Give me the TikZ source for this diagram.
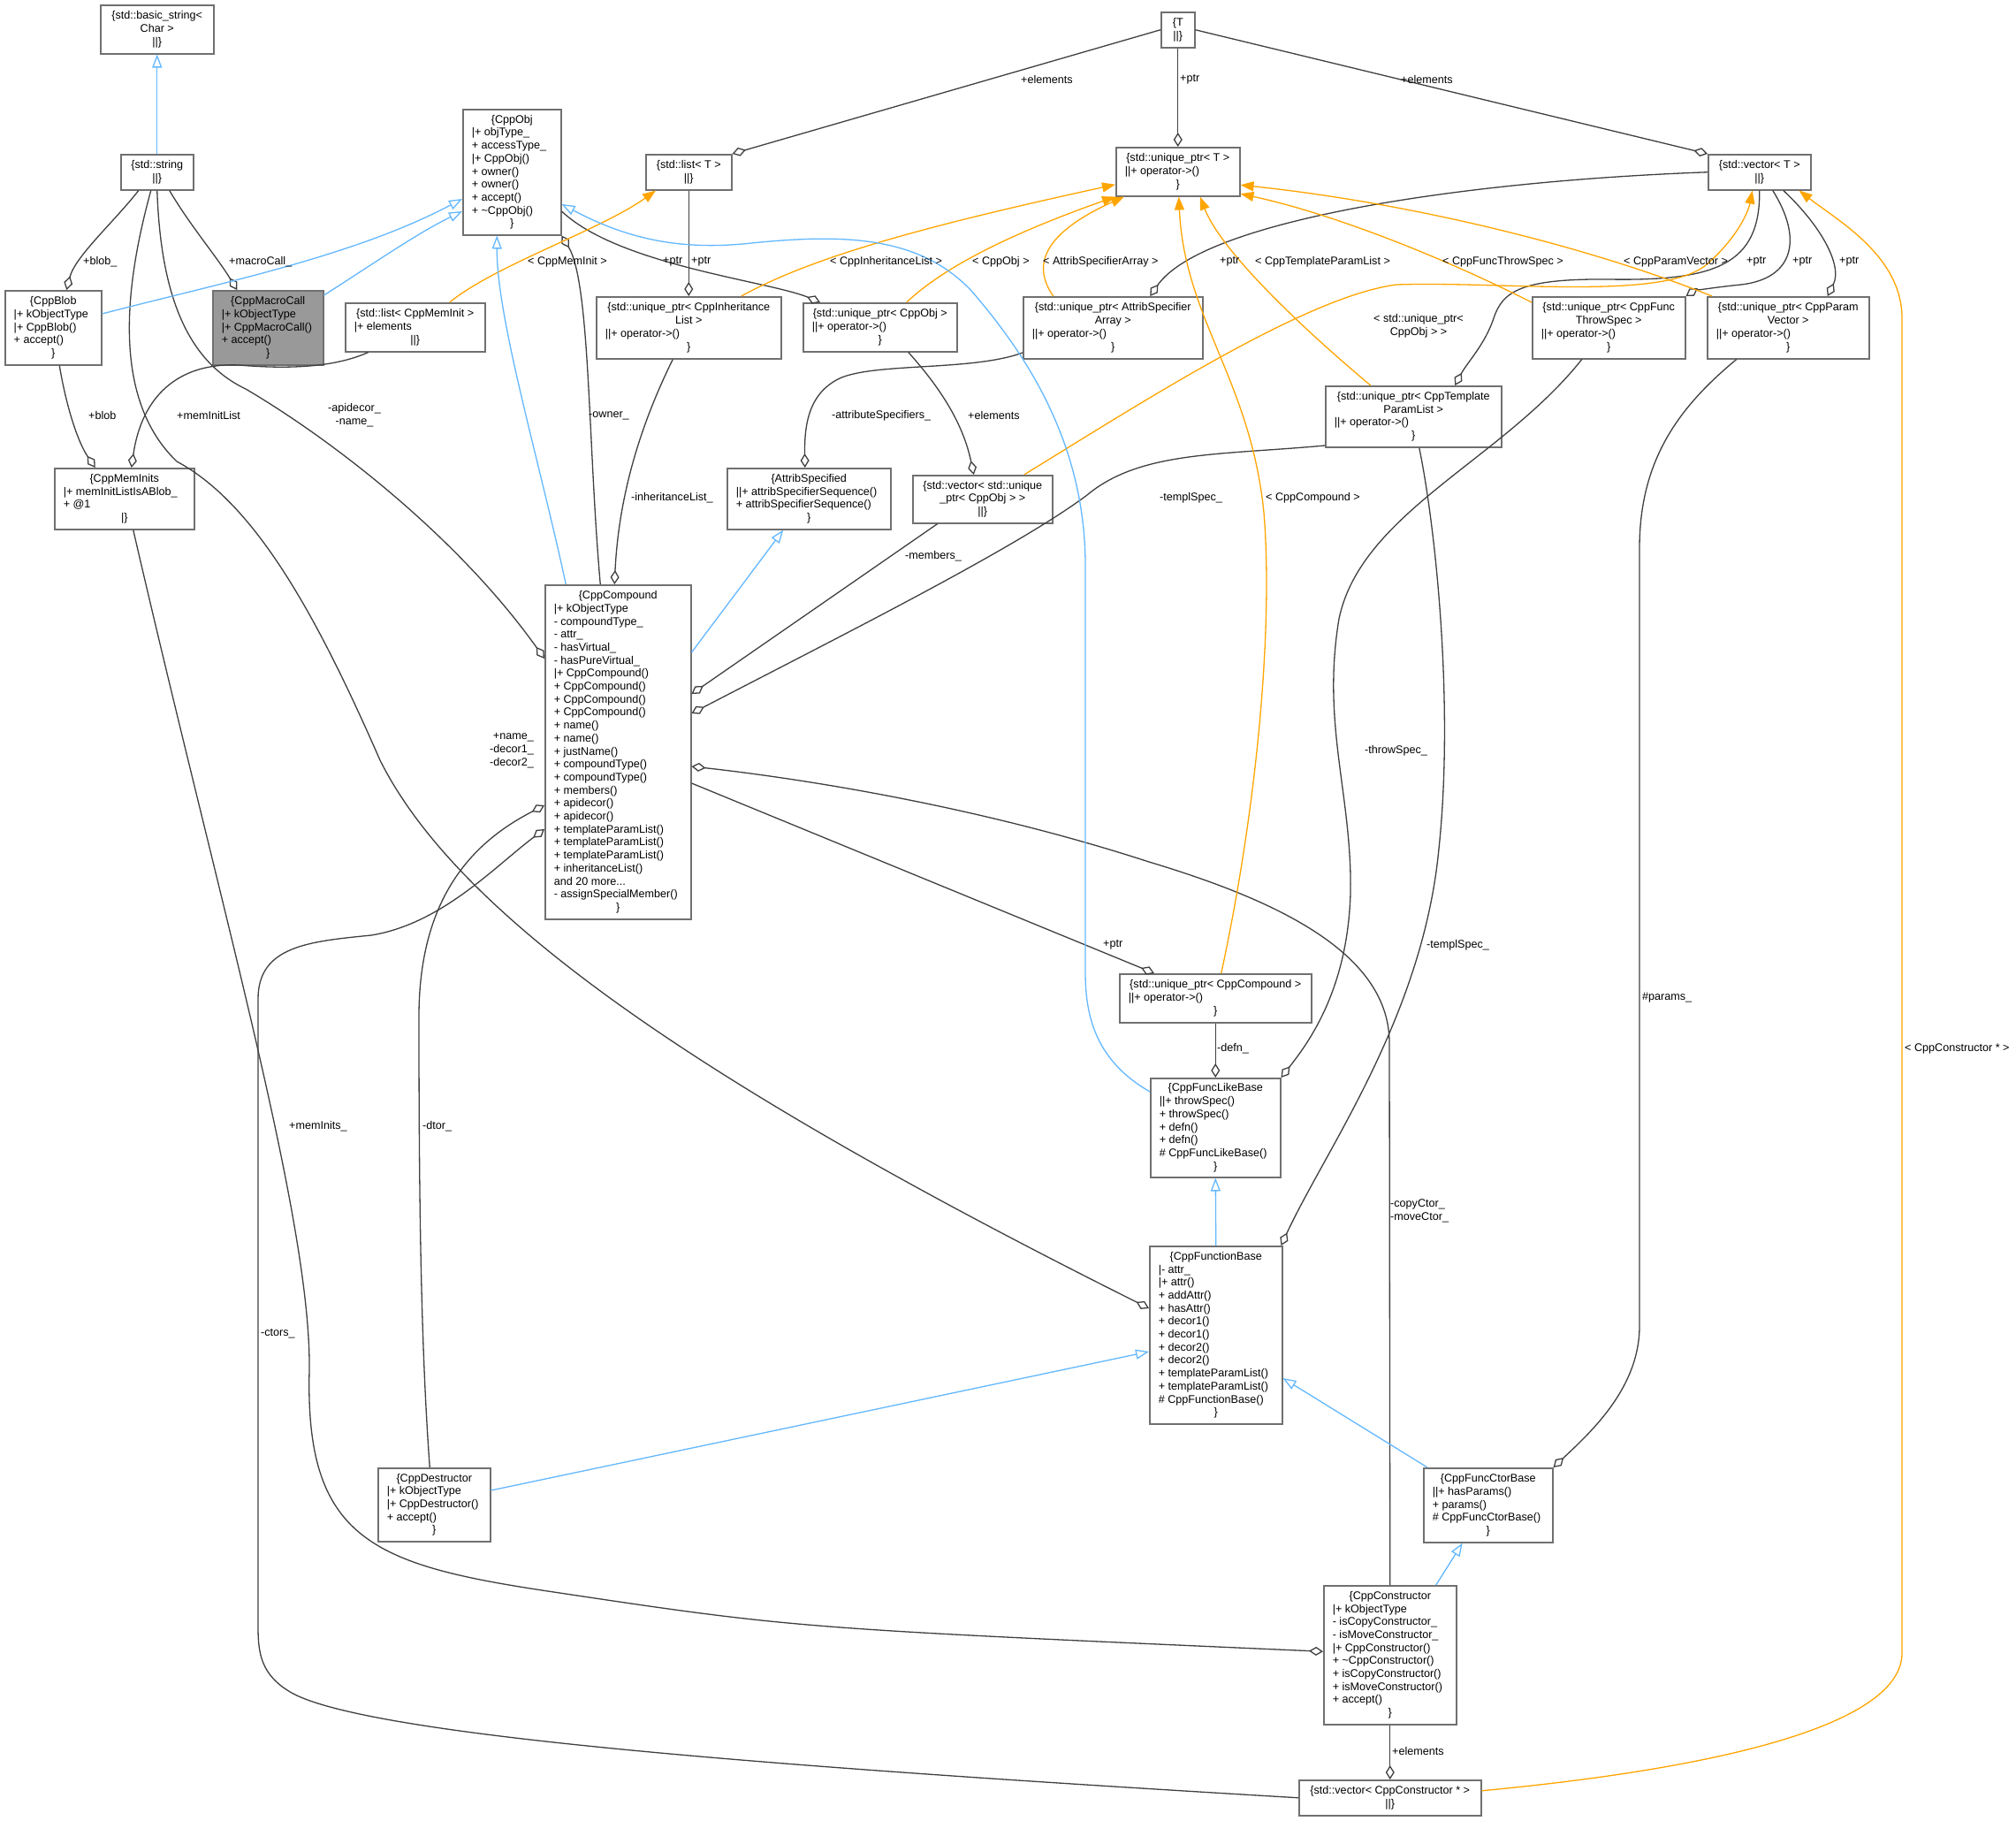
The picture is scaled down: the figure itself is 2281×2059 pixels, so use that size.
\documentclass[tikz,border=0pt]{standalone}
\usepackage{fontspec}
\setmainfont{Liberation Sans}
\usetikzlibrary{arrows.meta}
\definecolor{edgec}{HTML}{404040}
\definecolor{boxc}{HTML}{707070}
\definecolor{inhc}{HTML}{63B8FF}
\definecolor{tplc}{HTML}{FFA500}
\definecolor{hil}{HTML}{999999}
\newcommand\fsz{\fontsize{12.6}{14.7}\selectfont}
\newcommand\LC[1]{\hbox to\hsize{\hss#1\hss}}
\newcommand\LL[1]{\hbox to\hsize{#1\hss}}
\newcommand\BX[2]{\vbox{\hsize=#1\relax\fsz #2}}
\begin{document}
\begin{tikzpicture}[x=1pt,y=-1pt,
  cls/.style={draw=boxc, line width=1.5pt, fill=white, anchor=north west, inner sep=0pt},
  lbl/.style={font=\fsz, inner sep=0pt, text=black},
  agg/.style={draw=edgec, line width=1.3pt, -{Diamond[open,length=16pt,width=10pt]}},
  inh/.style={draw=inhc, line width=1.3pt, -{Triangle[open,length=15pt,width=11pt]}},
  tpl/.style={draw=tplc, line width=1.3pt, -{Triangle[length=15pt,width=11pt]}}]
\fill[white] (0,0) rectangle (2281,2059);
\useasboundingbox (0,0) rectangle (2281,2059);

% ---------------- nodes ----------------
\node[cls, minimum width=128pt, minimum height=55pt] (bstr) at (113,5)
  {\BX{108pt}{\LC{\{std::basic\_string<}\LC{Char >}\LC{||\}}}};
\node[cls, minimum width=82pt, minimum height=40pt] (str) at (136,174)
  {\BX{62pt}{\LC{\{std::string}\LC{||\}}}};
\node[cls, minimum width=111pt, minimum height=142pt] (cppobj) at (523,123)
  {\BX{91pt}{\LC{\{CppObj}\LL{|+ objType\_}\LL{+ accessType\_}\LL{|+ CppObj()}\LL{+ owner()}\LL{+ owner()}\LL{+ accept()}\LL{+ \textasciitilde CppObj()}\LC{\}}}};
\node[cls, minimum width=97pt, minimum height=40pt] (listT) at (730,174)
  {\BX{77pt}{\LC{\{std::list< T >}\LC{||\}}}};
\node[cls, minimum width=109pt, minimum height=84pt] (blob) at (5,328)
  {\BX{89pt}{\LC{\{CppBlob}\LL{|+ kObjectType}\LL{|+ CppBlob()}\LL{+ accept()}\LC{\}}}};
\node[cls, fill=hil, minimum width=125pt, minimum height=84pt] (macro) at (240,328)
  {\BX{105pt}{\LC{\{CppMacroCall}\LL{|+ kObjectType}\LL{|+ CppMacroCall()}\LL{+ accept()}\LC{\}}}};
\node[cls, minimum width=158pt, minimum height=55pt] (listmi) at (390,342)
  {\BX{138pt}{\LC{\{std::list< CppMemInit >}\LL{|+ elements}\LC{||\}}}};
\node[cls, minimum width=158pt, minimum height=69pt] (meminits) at (61,529)
  {\BX{138pt}{\LC{\{CppMemInits}\LL{|+ memInitListIsABlob\_}\LL{+ @1}\LC{|\}}}};
\node[cls, minimum width=38pt, minimum height=40pt] (T) at (1313,13)
  {\BX{18pt}{\LC{\{T}\LC{||\}}}};
\node[cls, minimum width=140pt, minimum height=55pt] (uptrT) at (1262,166)
  {\BX{120pt}{\LC{\{std::unique\_ptr< T >}\LL{||+ operator->()}\LC{\}}}};
\node[cls, minimum width=209pt, minimum height=70pt] (uinh) at (674,335)
  {\BX{189pt}{\LC{\{std::unique\_ptr< CppInheritance}\LC{List >}\LL{||+ operator->()}\LC{\}}}};
\node[cls, minimum width=174pt, minimum height=55pt] (uobj) at (908,342)
  {\BX{154pt}{\LC{\{std::unique\_ptr< CppObj >}\LL{||+ operator->()}\LC{\}}}};
\node[cls, minimum width=203pt, minimum height=70pt] (uattr) at (1157,335)
  {\BX{183pt}{\LC{\{std::unique\_ptr< AttribSpecifier}\LC{Array >}\LL{||+ operator->()}\LC{\}}}};
\node[cls, minimum width=185pt, minimum height=69pt] (attrsp) at (822,529)
  {\BX{165pt}{\LC{\{AttribSpecified}\LL{||+ attribSpecifierSequence()}\LL{+ attribSpecifierSequence()}\LC{\}}}};
\node[cls, minimum width=158pt, minimum height=54pt] (vuobj) at (1032,537)
  {\BX{138pt}{\LC{\{std::vector< std::unique}\LC{\_ptr< CppObj > >}\LC{||\}}}};
\node[cls, minimum width=116pt, minimum height=40pt] (vecT) at (1932,174)
  {\BX{96pt}{\LC{\{std::vector< T >}\LC{||\}}}};
\node[cls, minimum width=173pt, minimum height=70pt] (uthrow) at (1733,335)
  {\BX{153pt}{\LC{\{std::unique\_ptr< CppFunc}\LC{ThrowSpec >}\LL{||+ operator->()}\LC{\}}}};
\node[cls, minimum width=183pt, minimum height=70pt] (uparam) at (1931,335)
  {\BX{163pt}{\LC{\{std::unique\_ptr< CppParam}\LC{Vector >}\LL{||+ operator->()}\LC{\}}}};
\node[cls, minimum width=199pt, minimum height=69pt] (utpl) at (1499,436)
  {\BX{179pt}{\LC{\{std::unique\_ptr< CppTemplate}\LC{ParamList >}\LL{||+ operator->()}\LC{\}}}};
\node[cls, minimum width=165pt, minimum height=378pt] (compound) at (616,661)
  {\BX{145pt}{\LC{\{CppCompound}\LL{|+ kObjectType}\LL{- compoundType\_}\LL{- attr\_}\LL{- hasVirtual\_}\LL{- hasPureVirtual\_}\LL{|+ CppCompound()}\LL{+ CppCompound()}\LL{+ CppCompound()}\LL{+ CppCompound()}\LL{+ name()}\LL{+ name()}\LL{+ justName()}\LL{+ compoundType()}\LL{+ compoundType()}\LL{+ members()}\LL{+ apidecor()}\LL{+ apidecor()}\LL{+ templateParamList()}\LL{+ templateParamList()}\LL{+ templateParamList()}\LL{+ inheritanceList()}\LL{and 20 more...}\LL{- assignSpecialMember()}\LC{\}}}};
\node[cls, minimum width=217pt, minimum height=55pt] (ucomp) at (1266,1101)
  {\BX{197pt}{\LC{\{std::unique\_ptr< CppCompound >}\LL{||+ operator->()}\LC{\}}}};
\node[cls, minimum width=147pt, minimum height=112pt] (funclike) at (1301,1219)
  {\BX{127pt}{\LC{\{CppFuncLikeBase}\LL{||+ throwSpec()}\LL{+ throwSpec()}\LL{+ defn()}\LL{+ defn()}\LL{\# CppFuncLikeBase()}\LC{\}}}};
\node[cls, minimum width=150pt, minimum height=201pt] (funcbase) at (1300,1409)
  {\BX{130pt}{\LC{\{CppFunctionBase}\LL{|- attr\_}\LL{|+ attr()}\LL{+ addAttr()}\LL{+ hasAttr()}\LL{+ decor1()}\LL{+ decor1()}\LL{+ decor2()}\LL{+ decor2()}\LL{+ templateParamList()}\LL{+ templateParamList()}\LL{\# CppFunctionBase()}\LC{\}}}};
\node[cls, minimum width=146pt, minimum height=84pt] (ctorbase) at (1610,1660)
  {\BX{126pt}{\LC{\{CppFuncCtorBase}\LL{||+ hasParams()}\LL{+ params()}\LL{\# CppFuncCtorBase()}\LC{\}}}};
\node[cls, minimum width=150pt, minimum height=157pt] (ctor) at (1497,1793)
  {\BX{130pt}{\LC{\{CppConstructor}\LL{|+ kObjectType}\LL{- isCopyConstructor\_}\LL{- isMoveConstructor\_}\LL{|+ CppConstructor()}\LL{+ \textasciitilde CppConstructor()}\LL{+ isCopyConstructor()}\LL{+ isMoveConstructor()}\LL{+ accept()}\LC{\}}}};
\node[cls, minimum width=206pt, minimum height=40pt] (vctor) at (1469,2013)
  {\BX{186pt}{\LC{\{std::vector< CppConstructor * >}\LC{||\}}}};
\node[cls, minimum width=127pt, minimum height=83pt] (dtor) at (427,1660)
  {\BX{107pt}{\LC{\{CppDestructor}\LL{|+ kObjectType}\LL{|+ CppDestructor()}\LL{+ accept()}\LC{\}}}};

% ---------------- aggregation edges ----------------
\draw[agg] (T.west) -- (listT.north east);
\draw[agg] (T.south) -- (uptrT.north);
\draw[agg] (T.east) -- (vecT.north west);
\draw[agg] ([xshift=-21pt]str.south) .. controls (130,250) and (85,290) .. ([xshift=15pt]blob.north);
\draw[agg] ([xshift=14pt]str.south) .. controls (215,255) and (245,290) .. ([xshift=-35pt]macro.north);
\draw[agg] ([xshift=-53pt]listmi.south) .. controls (380,415) and (330,418) .. (270,413) .. controls (200,410) and (160,450) .. ([xshift=8pt]meminits.north);
\draw[agg] ([xshift=7pt]blob.south) .. controls (75,460) and (88,500) .. ([xshift=-33pt]meminits.north);
\draw[agg] (str.south) .. controls (182,340) and (215,410) .. (278,440) .. controls (380,500) and (520,610) .. ([yshift=-84pt]compound.north west);
\draw[agg] ([xshift=-7pt]str.south) .. controls (142,320) and (125,450) .. (200,522) .. controls (290,570) and (360,700) .. (430,860) .. controls (520,1040) and (800,1230) .. ([yshift=-71pt]funcbase.north west);
\draw[agg] ([xshift=10pt]meminits.south) .. controls (250,1030) and (352,1380) .. (350,1550) .. controls (345,1740) and (420,1770) .. (620,1800) .. controls (900,1842) .. ([yshift=4pt]ctor.west);
\draw[agg] ([xshift=-5pt]dtor.north) .. controls (476,1520) and (474,1350) .. (474,1150) .. controls (474,1010) and (540,950) .. ([yshift=-250pt]compound.north west);
\draw[agg] (vctor.west) .. controls (900,2000) and (420,1965) .. (330,1915) .. controls (295,1895) and (292,1870) .. (292,1840) -- (292,1130) .. controls (292,1070) and (350,1065) .. (420,1058) .. controls (500,1045) and (560,980) .. ([yshift=-277pt]compound.north west);
\draw[agg] ([xshift=-18pt]uinh.south) .. controls (725,480) and (700,560) .. ([xshift=-4pt]compound.north);
\draw[agg] ([xshift=-20pt]compound.north) .. controls (665,500) and (668,320) .. (cppobj.south east);
\draw[agg] ([yshift=-64pt]uattr.north west) .. controls (1100,420) and (990,410) .. (950,428) .. controls (915,445) and (910,480) .. ([xshift=-4.5pt]attrsp.north);
\draw[agg] ([xshift=32pt]uobj.south) .. controls (1065,440) and (1090,480) .. ([xshift=-10pt]vuobj.north);
\draw[agg] ([yshift=-116pt]cppobj.north east) .. controls (700,300) and (870,318) .. ([xshift=20pt]uobj.north west);
\draw[agg] (listT.south) -- (uinh.north);
\draw[agg] (vecT.west) .. controls (1650,205) and (1360,250) .. ([xshift=42pt]uattr.north);
\draw[agg] (vecT.south) .. controls (1992,300) and (1940,318) .. (1820,316) .. controls (1720,315) and (1700,330) .. (1690,360) .. controls (1680,390) and (1660,410) .. ([xshift=47pt]utpl.north);
\draw[agg] ([xshift=15pt]vecT.south) .. controls (2040,270) and (2030,315) .. (1970,322) .. controls (1930,326) and (1915,330) .. (uthrow.north east);
\draw[agg] ([xshift=27pt]vecT.south) .. controls (2060,255) and (2085,300) .. ([xshift=44.5pt]uparam.north);
\draw[agg] ([yshift=-225pt]compound.north east) -- ([xshift=40pt]ucomp.north west);
\draw[agg] (ucomp.south) -- (funclike.north);
\draw[agg] ([xshift=-30.5pt]uthrow.south) .. controls (1700,520) and (1540,580) .. (1515,700) .. controls (1495,820) and (1530,900) .. (1528,1010) .. controls (1525,1120) and (1480,1180) .. (funclike.north east);
\draw[agg] ([xshift=6.5pt]utpl.south) .. controls (1625,600) and (1645,800) .. (1628,960) .. controls (1610,1150) and (1500,1300) .. ([xshift=-2pt]funcbase.north east);
\draw[agg] ([xshift=-58.5pt]uparam.south) .. controls (1900,460) and (1855,520) .. (1855,620) -- (1855,1500) .. controls (1855,1570) and (1800,1620) .. (ctorbase.north east);
\draw[agg] (ctor.north) -- (1572,1180) .. controls (1572,1080) and (1450,1020) .. (1300,975) .. controls (1100,910) and (900,880) .. ([yshift=-206pt]compound.north east);
\draw[agg] ([yshift=-68pt]utpl.north west) .. controls (1380,515) and (1290,510) .. (1230,560) .. controls (1150,620) and (950,720) .. ([yshift=-146pt]compound.north east);
\draw[agg] ([xshift=-51pt]vuobj.south) -- ([yshift=-124pt]compound.north east);
\draw[agg] (ctor.south) -- (vctor.north);

% ---------------- template edges ----------------
\draw[tpl] ([xshift=39pt]listmi.north) .. controls (560,300) and (680,260) .. ([xshift=12pt]listT.south west);
\draw[tpl] ([xshift=59.5pt]uinh.north) .. controls (920,290) and (1050,255) .. ([yshift=-14.5pt]uptrT.west);
\draw[tpl] ([xshift=30pt]uobj.north) .. controls (1070,300) and (1150,262) .. (uptrT.south west);
\draw[tpl] ([xshift=-67.5pt]uattr.north) .. controls (1160,290) and (1200,255) .. ([xshift=10pt]uptrT.south west);
\draw[tpl] ([xshift=-48.5pt]utpl.north) .. controls (1460,360) and (1380,280) .. ([xshift=25pt]uptrT.south);
\draw[tpl] ([xshift=6.5pt]ucomp.north) .. controls (1425,900) and (1440,700) .. (1430,580) .. controls (1415,430) and (1340,360) .. ([xshift=1pt]uptrT.south);
\draw[tpl] ([yshift=-7pt]uthrow.north west) .. controls (1620,285) and (1500,240) .. ([yshift=-25pt]uptrT.east);
\draw[tpl] ([xshift=6pt]uparam.north west) .. controls (1800,280) and (1600,230) .. ([yshift=-15pt]uptrT.east);
\draw[tpl] ([xshift=47pt]vuobj.north) .. controls (1300,450) and (1480,335) .. (1580,322) .. controls (1700,318) and (1880,340) .. (1930,300) .. controls (1965,270) and (1978,240) .. ([xshift=-8pt]vecT.south);
\draw[tpl] ([yshift=8pt]vctor.east) .. controls (1950,2000) and (2152,1950) .. (2152,1870) -- (2152,360) .. controls (2152,290) and (2080,250) .. ([xshift=-14pt]vecT.south east);

% ---------------- inheritance edges ----------------
\draw[inh] (str.north) -- (bstr.south);
\draw[inh] ([xshift=-59pt]compound.north) .. controls (610,520) and (562,360) .. ([xshift=-17pt]cppobj.south);
\draw[inh] ([yshift=-77pt]compound.north east) -- ([xshift=-29pt]attrsp.south);
\draw[inh] ([yshift=-27pt]blob.north east) .. controls (250,320) and (400,290) .. ([yshift=-102pt]cppobj.north west);
\draw[inh] ([yshift=-6pt]macro.north east) .. controls (420,300) and (470,265) .. ([yshift=-116pt]cppobj.north west);
\draw[inh] ([yshift=-16pt]funclike.north west) .. controls (1240,1200) and (1228,1150) .. (1228,1100) -- (1228,640) .. controls (1228,500) and (1160,400) .. (1100,330) .. controls (1040,265) and (950,265) .. (850,275) .. controls (760,285) and (700,265) .. ([yshift=-108pt]cppobj.north east);
\draw[inh] (funcbase.north) -- (funclike.south);
\draw[inh] ([yshift=-26pt]dtor.north east) -- ([yshift=-120pt]funcbase.north west);
\draw[inh] ([xshift=5pt]ctorbase.north west) -- ([yshift=-150pt]funcbase.north east);
\draw[inh] ([xshift=52pt]ctor.north) -- ([xshift=-29pt]ctorbase.south);

% ---------------- labels ----------------
\node[lbl, anchor=west] (la1) at (1155,90) {+elements};
\node[lbl, anchor=west] (la2) at (1335,90) {+ptr};
\node[lbl, anchor=west] (la3) at (1585,90) {+elements};
\node[lbl, anchor=west] (la4) at (94,296) {+blob\_};
\node[lbl, anchor=west] (la5) at (259,296) {+macroCall\_};
\node[lbl, anchor=west] (la6) at (597,296) {< CppMemInit >};
\node[lbl, anchor=west] (la7) at (750,296) {+ptr};
\node[lbl, anchor=west] (la8) at (782,296) {+ptr};
\node[lbl, anchor=west] (la9) at (939,296) {< CppInheritanceList >};
\node[lbl, anchor=west] (la10) at (1100,296) {< CppObj >};
\node[lbl, anchor=west] (la11) at (1180,296) {< AttribSpecifierArray >};
\node[lbl, anchor=west] (la12) at (1380,296) {+ptr};
\node[lbl, anchor=west] (la13) at (1420,296) {< CppTemplateParamList >};
\node[lbl, anchor=west] (la14) at (1632,296) {< CppFuncThrowSpec >};
\node[lbl, anchor=west] (la15) at (1837,296) {< CppParamVector >};
\node[lbl, anchor=west] (la16) at (1976,296) {+ptr};
\node[lbl, anchor=west] (la17) at (2028,296) {+ptr};
\node[lbl, anchor=west] (la18) at (2081,296) {+ptr};
\node[lbl, align=center] (la19) at (1605,369) {< std::unique\_ptr<\\CppObj > >};
\node[lbl, anchor=west] (la20) at (100,470) {+blob};
\node[lbl, anchor=west] (la21) at (200,470) {+memInitList};
\node[lbl, align=center] (la22) at (401,470) {-apidecor\_\\-name\_};
\node[lbl, anchor=west] (la23) at (666,470) {-owner\_};
\node[lbl, anchor=west] (la24) at (941,470) {-attributeSpecifiers\_};
\node[lbl, anchor=west] (la25) at (1095,470) {+elements};
\node[lbl, anchor=west] (la26) at (714,563) {-inheritanceList\_};
\node[lbl, anchor=west] (la27) at (1312,563) {-templSpec\_};
\node[lbl, anchor=west] (la28) at (1432,563) {< CppCompound >};
\node[lbl, anchor=west] (la29) at (1024,629) {-members\_};
\node[lbl, align=right, anchor=east] (la30) at (604,849) {+name\_\\-decor1\_\\-decor2\_};
\node[lbl, anchor=west] (la31) at (1544,849) {-throwSpec\_};
\node[lbl, anchor=west] (la32) at (1248,1069) {+ptr};
\node[lbl, anchor=west] (la33) at (1614,1069) {-templSpec\_};
\node[lbl, anchor=west] (la34) at (1858,1128) {\#params\_};
\node[lbl, anchor=west] (la35) at (1377,1186) {-defn\_};
\node[lbl, anchor=west] (la36) at (2155,1186) {< CppConstructor * >};
\node[lbl, anchor=west] (la37) at (327,1274) {+memInits\_};
\node[lbl, anchor=west] (la38) at (478,1274) {-dtor\_};
\node[lbl, align=left, anchor=west] (la39) at (1573,1370) {-copyCtor\_\\-moveCtor\_};
\node[lbl, anchor=west] (la40) at (295,1509) {-ctors\_};
\node[lbl, anchor=west] (la41) at (1575,1981) {+elements};
\end{tikzpicture}
\end{document}
